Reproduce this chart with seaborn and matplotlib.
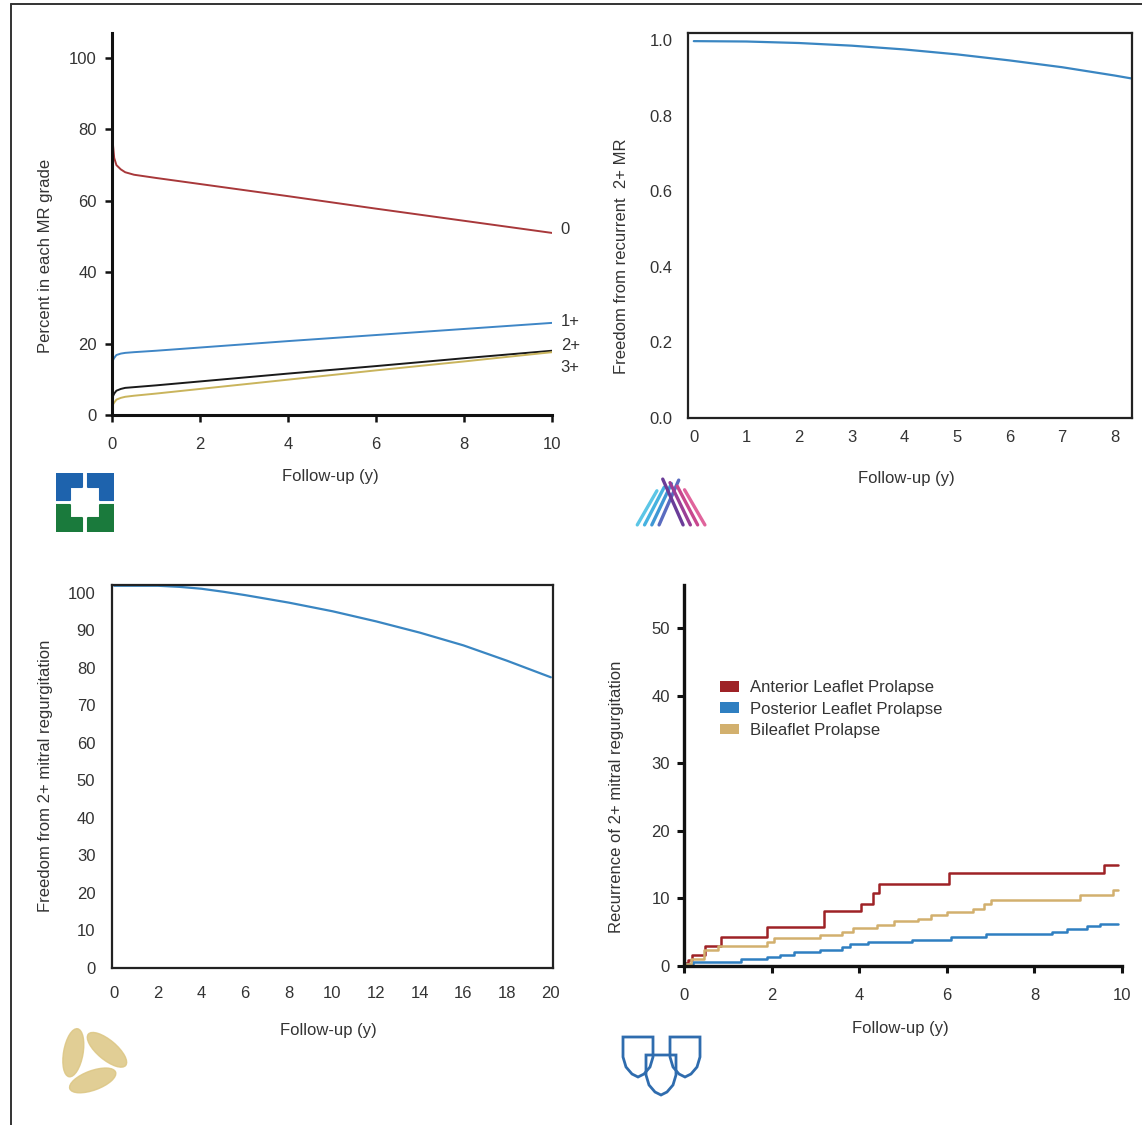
import numpy as np
import pandas as pd
import matplotlib
matplotlib.use("Agg")
import matplotlib.pyplot as plt
import seaborn as sns
from matplotlib.patches import Patch, Polygon, Ellipse
from matplotlib.lines import Line2D

sns.set_style("ticks")
plt.rcParams['font.family'] = ['Liberation Sans', 'DejaVu Sans']
TXT = '#333333'

# panel A: percent in each MR grade
grade_years = [0, 0.02, 0.05, 0.1, 0.2, 0.3, 0.5, 1, 2, 4, 6, 8, 10]
grade_0 = [80, 76, 72, 70, 68.8, 68.0, 67.3, 66.4, 64.7, 61.3, 57.8, 54.4, 51.0]
grade_1 = [14, 15.3, 16.0, 16.8, 17.2, 17.4, 17.6, 18.0, 18.9, 20.7, 22.4, 24.1, 25.8]
grade_2 = [4, 5.2, 6.0, 6.8, 7.3, 7.6, 7.8, 8.3, 9.4, 11.6, 13.7, 15.9, 18.0]
grade_3 = [2, 2.9, 3.5, 4.3, 4.8, 5.1, 5.4, 6.0, 7.3, 9.9, 12.5, 15.0, 17.6]
grade_names = ['0', '1+', '2+', '3+']
grade_label_y = [52, 26.2, 19.6, 13.2]
grade_colors = ['#a8383a', '#3f86c6', '#1a1a1a', '#c9b45c']

# panel B: freedom from recurrent 2+ MR
b_years = [0, 1, 2, 3, 4, 5, 6, 7, 8, 8.33]
b_free = [0.997, 0.996, 0.992, 0.985, 0.975, 0.962, 0.946, 0.928, 0.906, 0.898]

# panel C: freedom from 2+ mitral regurgitation
c_years = [0, 2, 3, 4, 5, 6, 8, 10, 12, 14, 16, 18, 20]
c_free = [101.9, 101.9, 101.6, 101.1, 100.3, 99.4, 97.4, 95.1, 92.4, 89.4, 86.0, 81.9, 77.5]

# panel D: recurrence by prolapse type (step curves)
ant_years = [0, 0.08, 0.19, 0.47, 0.85, 1.9, 3.2, 4.05, 4.32, 4.45, 6.05, 9.6, 9.9]
ant_rec = [0.4, 0.9, 1.6, 3.0, 4.3, 5.7, 8.1, 9.2, 10.8, 12.2, 13.7, 14.9, 14.9]
post_years = [0, 0.2, 1.3, 1.9, 2.2, 2.5, 3.1, 3.6, 3.8, 4.2, 5.2, 6.1, 6.9, 8.4, 8.75, 9.2, 9.5, 9.9]
post_rec = [0.3, 0.6, 1.1, 1.3, 1.7, 2.0, 2.4, 2.8, 3.2, 3.6, 3.9, 4.3, 4.8, 5.1, 5.5, 5.9, 6.2, 6.2]
bi_years = [0, 0.15, 0.46, 0.78, 1.9, 2.05, 3.1, 3.6, 3.85, 4.4, 4.8, 5.35, 5.65, 6.0, 6.6, 6.85, 7.0, 9.05, 9.8, 9.9]
bi_rec = [0.3, 1.1, 2.4, 3.0, 3.6, 4.2, 4.6, 5.1, 5.6, 6.1, 6.6, 7.0, 7.5, 8.0, 8.5, 9.2, 9.8, 10.5, 11.3, 11.3]
prolapse_names = ['Anterior Leaflet Prolapse', 'Posterior Leaflet Prolapse', 'Bileaflet Prolapse']
prolapse_colors = ['#9e2226', '#2f7fc1', '#d2b06e']

W, H = 1142, 1125
fig = plt.figure(figsize=(W / 100, H / 100), dpi=100)


def box(l, t, r, b):
    return [l / W, 1 - b / H, (r - l) / W, (b - t) / H]


def style_ticks(ax, length, pad_x, pad_y, width=1.8):
    ax.tick_params(axis='x', length=length, width=width, pad=pad_x, labelsize=12, labelcolor=TXT, color='#111')
    ax.tick_params(axis='y', length=length, width=width, pad=pad_y, labelsize=12, labelcolor=TXT, color='#111')


# ---- panel A
ax1 = fig.add_axes(box(112, 33, 552, 415))
dfa = pd.DataFrame({
    'years': grade_years * 4,
    'pct': grade_0 + grade_1 + grade_2 + grade_3,
    'grade': np.repeat(grade_names, len(grade_years)),
})
sns.lineplot(data=dfa, x='years', y='pct', hue='grade', palette=grade_colors,
             legend=False, lw=1.4, ax=ax1)
ax1.set_xlim(0, 10)
ax1.set_ylim(0, 107)
ax1.set_xticks(range(0, 11, 2))
ax1.set_yticks(range(0, 101, 20))
sns.despine(ax=ax1)
for s in ['left', 'bottom']:
    ax1.spines[s].set_linewidth(2.2)
    ax1.spines[s].set_color('#111')
style_ticks(ax1, 5, 11, 6)
for name, yy in zip(grade_names, grade_label_y):
    ax1.text(10.2, yy, name, fontsize=12, color=TXT, va='center', ha='left', clip_on=False)
ax1.set_xlabel('')
ax1.set_ylabel('')
fig.text(330 / W, 1 - 476 / H, 'Follow-up (y)', fontsize=12, color=TXT, ha='center', va='center')
fig.text(46 / W, 1 - 256 / H, 'Percent in each MR grade', fontsize=12, color=TXT,
         ha='center', va='center', rotation=90)

# ---- panel B
ax2 = fig.add_axes(box(688, 33, 1132, 418))
sns.lineplot(x=b_years, y=b_free, color='#3a86c2', lw=1.6, ax=ax2)
ax2.set_xlim(-0.11, 8.33)
ax2.set_ylim(0, 1.0185)
ax2.set_xticks(range(0, 9))
ax2.set_yticks(np.round(np.arange(0, 1.01, 0.2), 1))
ax2.set_yticklabels([f'{v:.1f}' for v in np.arange(0, 1.01, 0.2)])
for s in ax2.spines.values():
    s.set_linewidth(1.6)
    s.set_color('#222')
style_ticks(ax2, 0, 9, 11)
fig.text(906 / W, 1 - 478 / H, 'Follow-up (y)', fontsize=12, color=TXT, ha='center', va='center')
fig.text(622 / W, 1 - 256 / H, 'Freedom from recurrent  2+ MR', fontsize=12, color=TXT,
         ha='center', va='center', rotation=90)

# ---- panel C
ax3 = fig.add_axes(box(112, 585, 553, 968))
sns.lineplot(x=c_years, y=c_free, color='#3a86c2', lw=1.6, ax=ax3)
ax3.set_xlim(-0.1, 20.1)
ax3.set_ylim(0, 102.1)
ax3.set_xticks(range(0, 21, 2))
ax3.set_yticks(range(0, 101, 10))
for s in ax3.spines.values():
    s.set_linewidth(1.6)
    s.set_color('#222')
style_ticks(ax3, 0, 13, 12)
fig.text(328 / W, 1 - 1031 / H, 'Follow-up (y)', fontsize=12, color=TXT, ha='center', va='center')
fig.text(46 / W, 1 - 776 / H, 'Freedom from 2+ mitral regurgitation', fontsize=12, color=TXT,
         ha='center', va='center', rotation=90)

# ---- panel D
ax4 = fig.add_axes(box(684, 585, 1122, 966))
dfd = pd.DataFrame({
    'years': ant_years + post_years + bi_years,
    'rec': ant_rec + post_rec + bi_rec,
    'type': [prolapse_names[0]] * len(ant_years) + [prolapse_names[1]] * len(post_years)
            + [prolapse_names[2]] * len(bi_years),
})
sns.lineplot(data=dfd, x='years', y='rec', hue='type', hue_order=prolapse_names,
             palette=prolapse_colors, drawstyle='steps-post', lw=1.8, legend=False, ax=ax4)
ax4.set_xlim(0, 10)
ax4.set_ylim(0, 56.4)
ax4.set_xticks(range(0, 11, 2))
ax4.set_yticks(range(0, 51, 10))
sns.despine(ax=ax4)
for s in ['left', 'bottom']:
    ax4.spines[s].set_linewidth(2.4)
    ax4.spines[s].set_color('#111')
style_ticks(ax4, 5, 11, 5, width=2.2)
ax4.set_xlabel('')
ax4.set_ylabel('')
handles = [Patch(facecolor=c, edgecolor='none', label=n) for n, c in zip(prolapse_names, prolapse_colors)]
leg = fig.legend(handles=handles, loc='upper left', bbox_to_anchor=(712 / W, 1 - 672 / H),
                 frameon=False, fontsize=12, handlelength=1.1, handleheight=0.6,
                 handletextpad=0.7, labelspacing=0.38, borderpad=0)
for t in leg.get_texts():
    t.set_color(TXT)
fig.text(900 / W, 1 - 1028 / H, 'Follow-up (y)', fontsize=12, color=TXT, ha='center', va='center')
fig.text(617 / W, 1 - 797 / H, 'Recurrence of 2+ mitral regurgitation', fontsize=12, color=TXT,
         ha='center', va='center', rotation=90)

# ---- logos (rough decorative shapes)
lg = fig.add_axes(box(56, 473, 114, 532))
lg.set_xlim(0, 1)
lg.set_ylim(0, 1)
lg.axis('off')
q = [(0, 0), (0.45, 0), (0.45, 0.24), (0.24, 0.24), (0.24, 0.45), (0, 0.45)]
for sx, sy, col in [(1, 1, '#1e63ad'), (-1, 1, '#1e63ad'), (1, -1, '#1a7a3c'), (-1, -1, '#1a7a3c')]:
    pts = []
    for x, y in q:
        px = x if sx == 1 else 1 - x
        py = 1 - y if sy == 1 else y
        pts.append((px, py))
    lg.add_patch(Polygon(pts, closed=True, facecolor=col, edgecolor=col, lw=1.5, joinstyle='round'))

lg2 = fig.add_axes(box(630, 474, 710, 530))
lg2.set_xlim(-0.05, 1.05)
lg2.set_ylim(-0.05, 1.05)
lg2.axis('off')
for i, c in enumerate(['#5cc6e6', '#46b2e0', '#3f97d4', '#5a6cc0']):
    lg2.plot([0.05 + 0.1 * i, 0.32 + 0.1 * i], [0.05, 0.72 + 0.07 * i], color=c, lw=2.4,
             solid_capstyle='round')
for i, c in enumerate(['#6a3c98', '#9a3f96', '#c8478e', '#e0649c']):
    lg2.plot([0.4 + 0.1 * i, 0.68 + 0.1 * i], [0.95 - 0.07 * i, 0.05], color=c, lw=2.4,
             solid_capstyle='round')

lg3 = fig.add_axes(box(52, 1022, 130, 1100))
lg3.set_xlim(-1, 1)
lg3.set_ylim(-1, 1)
lg3.set_aspect('equal')
lg3.axis('off')
for ang in [35, 155, 275]:
    a = np.deg2rad(ang)
    lg3.add_patch(Ellipse((0.5 * np.cos(a), 0.5 * np.sin(a)), 0.5, 1.25, angle=ang + 15,
                          color='#dcc683', alpha=0.85))

lg4 = fig.add_axes(box(620, 1033, 704, 1100))
lg4.set_xlim(0, 84)
lg4.set_ylim(67, 0)
lg4.axis('off')
shield = np.array([(0, 0), (30, 0), (30, 20), (27, 30), (21, 37), (15, 40), (9, 37), (3, 30), (0, 20)])
for dx, dy in [(3, 4), (50, 4), (26, 22)]:
    lg4.add_patch(Polygon(shield + [dx, dy], closed=True, fill=False, edgecolor='#2f6cae', lw=2))

# page border
fig.add_artist(Line2D([11 / W, 11 / W], [0, 1 - 4 / H], transform=fig.transFigure, color='#333', lw=1.4))
fig.add_artist(Line2D([11 / W, 1], [1 - 4 / H, 1 - 4 / H], transform=fig.transFigure, color='#333', lw=1.4))

fig.savefig('out.png', dpi=100)
